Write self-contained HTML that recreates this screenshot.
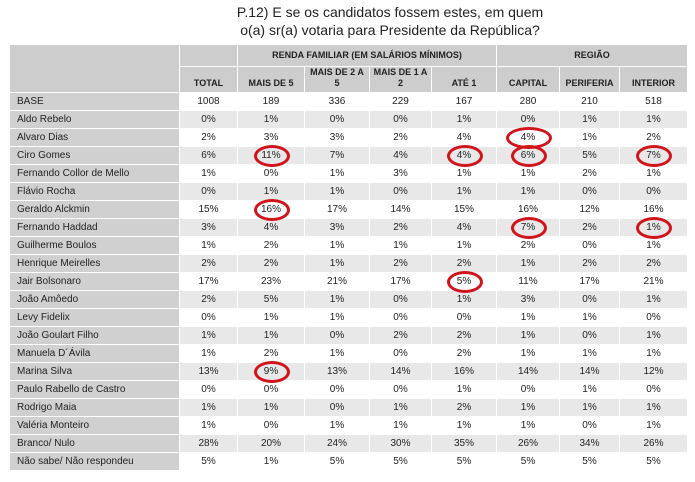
<!DOCTYPE html>
<html><head><meta charset="utf-8"><style>
body{margin:0;background:#fff;width:695px;height:482px;overflow:hidden;font-family:"Liberation Sans",sans-serif;position:relative}
.c{position:absolute;box-sizing:border-box;font-size:10px;color:#222;display:flex;align-items:center;justify-content:center;border-right:1px solid #fff;border-bottom:1px solid #fff}
.h{font-weight:bold;background:#cdcdcd;text-align:center;line-height:11px;font-size:9px}
.lab{justify-content:flex-start;padding-left:7px;background:#d0d0d0}
.title{position:absolute;left:190px;width:400px;text-align:center;font-size:14px;color:#222;line-height:18px}
.circ{position:absolute;border:3.5px solid #d0141c;border-radius:50%;box-sizing:border-box}
</style></head><body>
<div class="title" style="top:3px">P.12) E se os candidatos fossem estes, em quem<br>o(a) sr(a) votaria para Presidente da República?</div>
<div id="t"></div>
<script>
const categories=["BASE","Aldo Rebelo","Alvaro Dias","Ciro Gomes","Fernando Collor de Mello","Flávio Rocha","Geraldo Alckmin","Fernando Haddad","Guilherme Boulos","Henrique Meirelles","Jair Bolsonaro","João Amôedo","Levy Fidelix","João Goulart Filho","Manuela D´Ávila","Marina Silva","Paulo Rabello de Castro","Rodrigo Maia","Valéria Monteiro","Branco/ Nulo","Não sabe/ Não respondeu"];
const columns=["TOTAL","MAIS DE 5","MAIS DE 2 A<br>5","MAIS DE 1 A<br>2","ATÉ 1","CAPITAL","PERIFERIA","INTERIOR"];
const values=[[1008,189,336,229,167,280,210,518],[0,1,0,0,1,0,1,1],[2,3,3,2,4,4,1,2],[6,11,7,4,4,6,5,7],[1,0,1,3,1,1,2,1],[0,1,1,0,1,1,0,0],[15,16,17,14,15,16,12,16],[3,4,3,2,4,7,2,1],[1,2,1,1,1,2,0,1],[2,2,1,2,2,1,2,2],[17,23,21,17,5,11,17,21],[2,5,1,0,1,3,0,1],[0,1,1,0,0,1,1,0],[1,1,0,2,2,1,0,1],[1,2,1,0,2,1,1,1],[13,9,13,14,16,14,14,12],[0,0,0,0,1,0,1,0],[1,1,0,1,2,1,1,1],[1,0,1,1,1,1,0,1],[28,20,24,30,35,26,34,26],[5,1,5,5,5,5,5,5]];
const highlights=[[3,1],[6,1],[15,1],[2,5],[3,5],[3,4],[3,7],[7,5],[7,7],[10,4]];
const xs=[10,180,238,305,370,432,497,560,620,688];
const top0=45,hr1=22,hr2=26,rh=18;
const t=document.getElementById('t');
function cell(x,y,w,h,cls,html){const d=document.createElement('div');d.className='c '+cls;d.style.cssText=`left:${x}px;top:${y}px;width:${w}px;height:${h}px`;d.innerHTML=html;t.appendChild(d);return d;}
let d=cell(xs[0],top0,xs[1]-xs[0],hr1+hr2,'h','');


d=cell(xs[1],top0,xs[2]-xs[1],hr1,'h','');


d=cell(xs[2],top0,xs[6]-xs[2],hr1,'h','RENDA FAMILIAR (EM SALÁRIOS MÍNIMOS)');


d=cell(xs[6],top0,xs[9]-xs[6],hr1,'h','REGIÃO');


columns.forEach((c,i)=>{const e=cell(xs[i+1],top0+hr1,xs[i+2]-xs[i+1],hr2,'h',c);e.style.alignItems='flex-end';e.style.paddingBottom='3px';

});
const y0=top0+hr1+hr2;
categories.forEach((c,r)=>{const y=y0+r*rh;
const l=cell(xs[0],y,xs[1]-xs[0],rh,'lab',c);


values[r].forEach((v,i)=>{const e=cell(xs[i+1],y,xs[i+2]-xs[i+1],rh,'',r==0?String(v):v+'%');e.style.background=(r%2==1)?'#e8e8e8':'#fff';

});});
highlights.forEach(([r,i])=>{const cx=(xs[i+1]+xs[i+2])/2,cy=y0+r*rh+rh/2;const e=document.createElement('div');e.className='circ';const w=(i==5&&r==2)?46:36;e.style.cssText=`left:${cx-w/2}px;top:${cy-11}px;width:${w}px;height:22px`;


t.appendChild(e);});
</script>
</body></html>
